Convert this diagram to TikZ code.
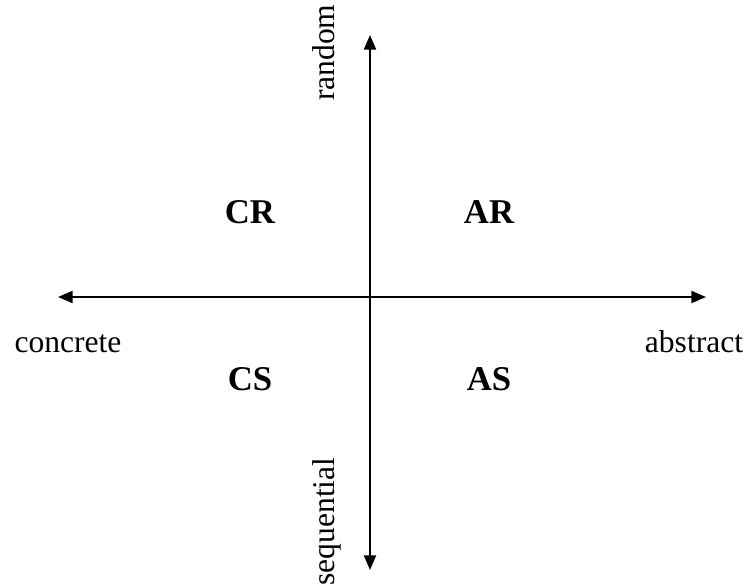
\documentclass[tikz,border=0pt]{standalone}
\usepackage{fontspec}
\setmainfont{Liberation Serif}
\usepackage{tikz}
\usetikzlibrary{arrows.meta}

\begin{document}
\begin{tikzpicture}[
  x=0.38pt, y=-0.38pt,
  axis/.style={{Triangle[length=5.6pt,width=4.6pt]}-{Triangle[length=5.6pt,width=4.6pt]}, line width=0.75pt},
  lbl/.style={inner sep=0pt, anchor=base, font=\fontsize{12}{14}\selectfont},
  quad/.style={inner sep=0pt, anchor=base, font=\fontsize{13.2}{15}\selectfont\bfseries}
]
\useasboundingbox (0,0) rectangle (748,587);

% axis ends
\coordinate (top) at (370,35);
\coordinate (bot) at (370,570);
\coordinate (lft) at (58,297);
\coordinate (rgt) at (706,297);

\draw[axis] (top) -- (bot);
\draw[axis] (lft) -- (rgt);

% axis labels
\node[lbl, rotate=90, anchor=base east] (rand) at (334,4) {random};
\node[lbl, rotate=90, anchor=base west] (seq) at (334,586) {sequential};
\node[lbl] (conc) at (68,352) {concrete};
\node[lbl] (abst) at (694,352) {abstract};

% quadrants
\node[quad] (cr) at (250,223) {CR};
\node[quad] (ar) at (489,223) {AR};
\node[quad] (cs) at (250,390) {CS};
\node[quad] (as) at (489,390) {AS};
\end{tikzpicture}
\end{document}
